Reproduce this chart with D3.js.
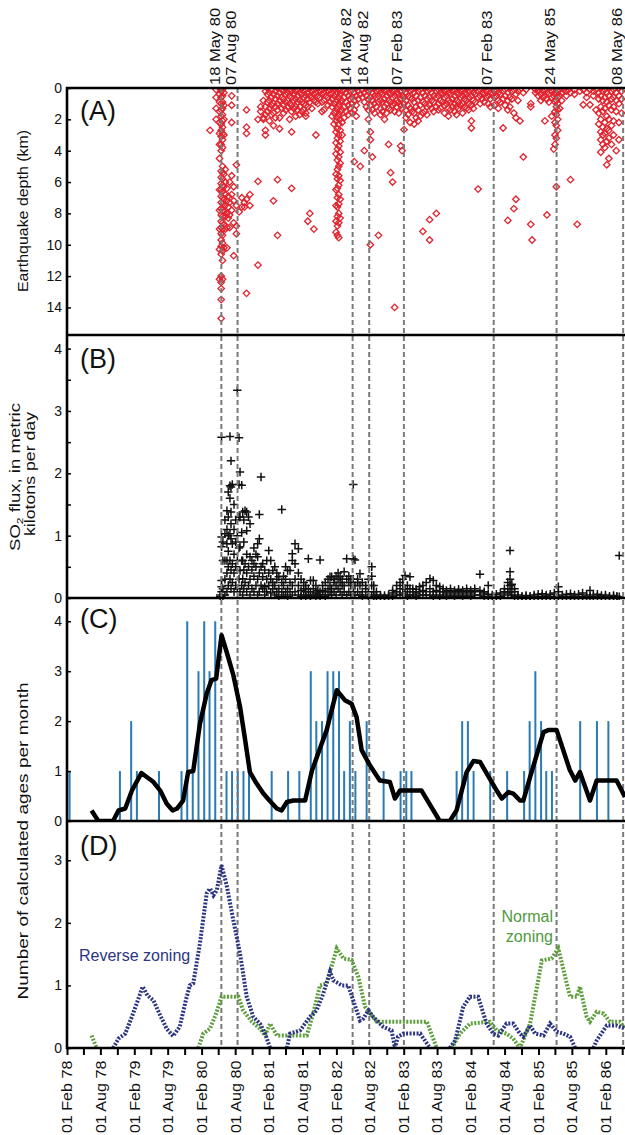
<!DOCTYPE html>
<html><head><meta charset="utf-8">
<script src="https://cdn.jsdelivr.net/npm/d3@7"></script>
<style>
html,body{margin:0;padding:0;background:#fff;}
svg{display:block;font-family:"Liberation Sans",Arial,Helvetica,sans-serif;}
</style></head><body>
<svg id="chart" width="625" height="1135"></svg>
<script>
// ---------------- DATA ----------------
const eventLabels = ["18 May 80","07 Aug 80","14 May 82","18 Aug 82","07 Feb 83","07 Feb 83","24 May 85","08 May 86"];
const eventDates  = ["1980-05-18","1980-08-14","1982-04-30","1982-07-29","1983-02-02","1984-06-03","1985-05-10","1986-05-06"];

const depthTicks = [0,2,4,6,8,10,12,14];
const so2Ticks = [0,1,2,3,4];
const so2Minor = [0.5,1.5,2.5,3.5];
const ageTicksC = [0,1,2,3,4];
const ageTicksD = [0,1,2,3];

// Earthquakes: [decimal year, [depths km]]
const quakes = [
[1980.21,[2.7]],[1980.30,[0.1,0.6,1.3,2.0]],
[1980.35,[0.0,0.4,0.9,1.5,2.2,2.9,3.6,4.5,6.5,7.8,9.0,10.3,12.2]],
[1980.375,[0.2,0.6,1.0,1.4,1.8,2.3,2.7,3.1,3.6,4.0,5.3,5.7,6.1,6.5,6.9,7.3,7.7,8.1,8.5,8.9,9.3,9.7,10.1,10.6,12.0,12.4,12.8,13.5,14.7]],
[1980.395,[0.1,0.5,0.9,1.3,1.7,2.1,2.5,2.9,3.3,3.8,5.0,5.4,5.8,6.2,6.6,7.0,7.4,7.8,8.2,8.6,9.0,9.4,9.9,10.4,11.0,12.2]],
[1980.415,[0.3,1.1,2.0,3.0,5.5,6.3,7.1,7.9,8.7,10.2]],
[1980.435,[5.2,6.0,6.8,7.5,8.2,9.0]],
[1980.46,[6.4,7.2,8.0,8.9,10.2]],[1980.48,[6.9,7.6,8.3]],[1980.50,[6.0,7.3,8.1,8.9]],
[1980.53,[0.5,1.1,2.2,5.6,6.8,7.8]],[1980.56,[6.3,7.2,8.6,10.7]],[1980.60,[4.9,7.5,8.8,9.3]],
[1980.64,[7.9]],[1980.68,[7.0,7.6]],[1980.72,[7.3,7.6]],[1980.75,[1.4,2.5,2.9,7.1,13.1]],
[1980.80,[6.8,7.5]],[1980.92,[2.0,5.96,11.3]],[1980.96,[1.5,1.2]],[1981.00,[0.8,1.9,2.0]],
[1981.03,[0.2,1.2,1.7,2.7,3.0]],[1981.06,[0.0,0.4,0.9,1.5]],[1981.09,[0.3,0.8,1.3,2.1]],
[1981.12,[0.1,0.6,1.1,1.7]],[1981.15,[0.4,1.0,1.6,2.4,7.2]],[1981.18,[0.2,0.7,1.2,1.9]],
[1981.21,[0.0,0.5,1.0,1.4,5.85,9.4]],[1981.24,[0.3,0.8,1.9,2.6]],[1981.27,[0.1,0.6,1.3]],
[1981.30,[0.2,0.7,1.1,1.6]],[1981.33,[0.0,0.4,0.9,1.4]],[1981.36,[0.3,0.8,1.2]],
[1981.39,[0.1,0.5,1.0,2.0]],[1981.42,[0.2,0.6,1.1,1.5,2.8,6.4]],[1981.45,[0.0,0.4,0.8,1.3]],
[1981.48,[0.2,0.7,1.2,1.8]],[1981.51,[0.1,0.5,0.9,1.4]],[1981.54,[0.3,0.8,1.2,1.7]],
[1981.57,[0.0,0.4,0.9,1.5]],[1981.60,[0.2,0.6,1.0,1.4]],[1981.63,[0.1,0.5,1.1,1.6,1.8]],
[1981.66,[0.3,0.7,1.2,8.5]],[1981.69,[0.0,0.5,0.9,8.0]],[1981.72,[0.2,0.6,1.3]],
[1981.75,[0.1,0.4,0.8,9.0]],[1981.78,[0.3,0.9,3.0]],[1981.81,[0.0,0.5,1.0]],[1981.84,[0.2,0.6]],
[1981.87,[0.1,0.4,0.9,1.5]],[1981.90,[0.3,0.8,1.4]],[1981.93,[0.0,0.5]],[1981.96,[0.2,0.6,1.1]],
[1981.99,[0.1,0.4,0.9]],[1982.02,[0.3,0.7,1.2,1.8]],[1982.05,[0.1,0.5,1.0,1.6,2.3]],
[1982.08,[0.0,0.4,0.9,1.5,2.1,2.8,3.5,4.2,5.5,6.5,7.5,8.5,9.2]],
[1982.10,[0.3,0.8,1.3,1.9,2.6,3.2,3.9,4.6,5.2,5.8,6.4,7.0,7.6,8.2,8.8,9.4]],
[1982.12,[0.1,0.6,1.1,1.7,2.3,3.0,3.7,4.4,5.0,5.6,6.2,6.8,7.4,8.0,8.6,9.55]],
[1982.14,[0.4,0.9,1.5,2.0,2.7,3.4,4.1,4.8,5.9,7.1,8.3]],
[1982.17,[0.2,0.8,1.4,2.2,3.0]],[1982.20,[0.1,0.6,1.2,1.9]],[1982.23,[0.3,0.9,1.5]],
[1982.26,[0.0,0.5,1.1,1.7]],[1982.29,[0.2,0.7,1.3]],[1982.32,[0.1,0.6,1.0,1.6]],
[1982.35,[0.3,0.8,1.4,4.7]],[1982.38,[0.0,0.5,1.1,1.8]],[1982.41,[0.2,0.7]],[1982.44,[0.4,5.0]],
[1982.47,[0.1,0.6]],[1982.50,[0.3,0.9,4.0]],[1982.53,[0.0,0.5,1.2]],[1982.56,[0.2,0.7,1.4,2.0]],
[1982.59,[0.1,0.6,1.1,2.8,3.3,10.0]],[1982.62,[0.3,0.8,1.4,4.4]],[1982.65,[0.0,0.5,1.0,1.6]],
[1982.68,[0.2,0.6,1.2]],[1982.71,[0.1,0.5,0.9,9.4]],[1982.74,[0.3,0.8,1.3,1.7]],
[1982.77,[0.0,0.4,0.9,1.5]],[1982.80,[0.2,0.7,1.2,2.0]],[1982.83,[0.1,0.5,1.0,1.6]],
[1982.86,[0.3,0.8,1.3,3.6]],[1982.89,[0.0,0.4,0.9,1.4,5.4]],[1982.92,[0.2,0.6,1.1,6.0]],
[1982.95,[0.1,0.5,1.0,1.5,14.0]],[1982.98,[0.3,0.8,1.2]],[1983.01,[0.0,0.4,0.9,1.6]],
[1983.04,[0.2,0.7,1.1,3.7]],[1983.06,[0.5,1.3,4.0]],[1983.09,[0.1,0.6,1.0,2.66]],
[1983.12,[0.3,0.8,1.4,1.9]],[1983.15,[0.0,0.5,1.1,1.7]],[1983.18,[0.2,0.6,1.3,2.2]],
[1983.21,[0.1,0.7,1.5]],[1983.24,[0.3,0.9,1.6,2.3]],[1983.27,[0.0,0.5,1.2,1.9]],
[1983.30,[0.2,0.8,1.4,2.1]],[1983.33,[0.1,0.6,1.1,1.8]],[1983.37,[0.3,0.9,1.6,9.15]],
[1983.40,[0.0,0.5,1.0,1.5]],[1983.43,[0.2,0.7,1.2,1.7]],[1983.47,[0.1,0.6,1.1,8.4,9.7]],
[1983.50,[0.3,0.8,1.3]],[1983.53,[0.0,0.5,0.9,1.5]],[1983.57,[0.2,0.6,1.2,8.0]],
[1983.60,[0.1,0.5,1.0,1.4]],[1983.63,[0.3,0.8,1.3]],[1983.66,[0.0,0.4,0.9]],
[1983.69,[0.2,0.6,1.1,1.6]],[1983.72,[0.1,0.5,1.0]],[1983.75,[0.3,0.8,1.3,1.8]],
[1983.78,[0.0,0.4,0.9,1.4]],[1983.81,[0.2,0.7,1.2]],[1983.84,[0.1,0.5,1.0,1.5]],
[1983.87,[0.3,0.8,1.2,1.7]],[1983.90,[0.0,0.4,0.9,1.3]],[1983.93,[0.2,0.6,1.1]],
[1983.96,[0.1,0.5,1.0,1.6]],[1983.99,[0.3,0.7,1.2]],[1984.02,[0.0,0.4,0.8,1.3]],
[1984.05,[0.2,0.6,1.0,1.4]],[1984.09,[0.1,0.5,1.1,2.1,2.55]],[1984.12,[0.3,0.8,1.3]],
[1984.15,[0.0,0.4,0.9]],[1984.19,[0.2,0.6,6.45]],[1984.22,[0.1,0.5,1.0]],[1984.25,[0.3,0.7]],
[1984.28,[0.0,0.4,0.9]],[1984.31,[0.2,0.6]],[1984.34,[0.1,0.5,1.0]],[1984.37,[0.3,0.7,1.2]],
[1984.40,[0.0,0.4]],[1984.43,[0.2,0.6,1.1]],[1984.46,[0.1,0.5]],[1984.49,[0.3,0.8,1.3]],
[1984.52,[0.0,0.4,0.9]],[1984.56,[0.2,0.7,2.55]],[1984.59,[0.1,0.5,1.1]],[1984.63,[0.3,0.8,1.4,8.45]],
[1984.66,[0.0,0.6,1.2]],[1984.69,[0.2,0.7]],[1984.72,[0.1,1.6,7.7]],[1984.75,[0.4,1.9,7.1]],
[1984.78,[0.2,0.8]],[1984.81,[0.1,2.1]],[1984.86,[0.3,4.4]],[1984.90,[0.1]],
[1984.97,[1.0,1.2,8.7]],[1984.99,[9.7]],[1985.04,[0.1,0.3]],[1985.08,[0.2,0.5]],
[1985.12,[0.0,0.4,0.8]],[1985.15,[0.2,0.6]],[1985.18,[0.1,0.5,2.1]],[1985.21,[0.3,0.7,8.1]],
[1985.24,[0.0,0.4,0.9]],[1985.28,[0.2,0.6,1.8]],[1985.31,[0.1,0.5,3.9]],
[1985.33,[0.3,0.9,1.5,2.2,3.0,3.6]],[1985.35,[0.0,0.4,0.8,1.2,1.7,2.4,3.2,6.3]],
[1985.37,[0.2,0.6,1.0,1.4,2.0,2.7]],[1985.40,[0.1,0.5,1.3]],[1985.43,[0.3,0.8]],[1985.46,[0.1]],
[1985.50,[0.2,0.5]],[1985.53,[0.1]],[1985.56,[0.3,5.85]],[1985.62,[0.1,0.4]],[1985.66,[8.7]],
[1985.70,[0.2]],[1985.75,[0.1,1.07]],[1985.80,[0.3,0.6]],[1985.85,[1.07,0.1]],[1985.90,[0.2,0.5]],
[1985.94,[0.1,1.4]],[1985.98,[0.3,0.7,1.6,2.3]],[1986.01,[0.0,0.5,1.2,2.0,2.8,3.3,4.1]],
[1986.04,[0.2,0.8,1.5,2.5,3.0,3.6]],[1986.07,[0.1,0.6,1.3,2.2,2.9,3.8]],
[1986.10,[0.3,0.9,1.8,2.6,3.4,4.9]],[1986.13,[0.0,0.5,1.1,2.0,2.7,3.2,4.5]],
[1986.17,[0.2,0.7,1.4,2.4,3.6]],[1986.20,[0.1,0.6,1.2,2.1,3.0]],[1986.24,[0.3,0.8,1.5,4.0]],
[1986.28,[0.0,0.5,1.0,2.2,3.3]],[1986.32,[0.2,0.7,1.6]]
];

// SO2 flux: [decimal year, [kilotons/day]]
const so2 = [
[1980.36,[0.02,0.05]],[1980.38,[0.1,0.18,0.28,0.82,0.98,2.58]],[1980.40,[0.0,0.15,0.6,0.9]],
[1980.43,[0.05,0.3,0.6,1.03,1.25]],[1980.46,[0.1,0.4,0.6,0.87,1.1,1.4]],[1980.48,[0.2,0.5,0.75,1.0,1.3,1.7]],
[1980.505,[0.3,0.6,1.03,1.6,1.8,2.59]],[1980.52,[0.15,0.45,0.95,1.19,1.38,1.78,2.2]],[1980.54,[0.25,0.55,0.87,1.82]],
[1980.565,[0.1,0.4,0.7,1.1,1.5]],[1980.59,[0.2,0.5,0.9,1.25]],[1980.614,[0.15,0.6,1.0,3.33]],
[1980.639,[0.3,0.8,1.3,1.82,2.57]],[1980.654,[0.1,0.44,0.82,1.3,2.02]],[1980.679,[0.2,0.6,1.05,1.81]],
[1980.694,[0.05,0.31,0.6,1.38]],[1980.71,[0.15,0.45,0.9,1.25]],[1980.728,[0.25,0.55,1.4]],
[1980.753,[0.1,0.4,0.7,1.08,1.38]],[1980.78,[0.2,0.5,1.3]],[1980.802,[0.05,0.3,0.66,1.19]],
[1980.83,[0.15,0.45,0.6]],[1980.86,[0.1,0.35,0.55,0.8]],[1980.89,[0.2,0.5,0.7]],
[1980.915,[0.05,0.3,0.66,0.87]],[1980.94,[0.1,0.4,0.95,1.34]],[1980.965,[0.2,0.5,1.94]],
[1980.99,[0.15,0.34,0.55]],[1981.02,[0.05,0.18,0.45]],[1981.05,[0.1,0.3,0.6]],[1981.08,[0.2,0.4,0.76]],
[1981.11,[0.08,0.3,0.6]],[1981.14,[0.15,0.25,0.44]],[1981.17,[0.05,0.2,0.5]],[1981.20,[0.1,0.3,0.4]],
[1981.23,[0.02,0.15,0.34]],[1981.273,[0.1,0.25,1.42]],[1981.30,[0.05,0.2,0.35]],[1981.33,[0.1,0.3,0.5]],
[1981.36,[0.02,0.15,0.44]],[1981.396,[0.1,0.25,0.44]],[1981.43,[0.05,0.2,0.6,0.71]],[1981.47,[0.1,0.3,0.55,0.87]],
[1981.52,[0.05,0.2,0.4,0.79]],[1981.56,[0.02,0.12,0.3]],[1981.60,[0.05,0.15,0.25]],[1981.63,[0.02,0.1,0.2]],
[1981.668,[0.05,0.15,0.63]],[1981.70,[0.02,0.1,0.28]],[1981.742,[0.05,0.15,0.28]],[1981.78,[0.02,0.08,0.2]],
[1981.81,[0.05,0.12]],[1981.842,[0.02,0.1,0.61]],[1981.88,[0.05,0.12,0.2]],[1981.92,[0.02,0.1,0.25]],
[1981.96,[0.05,0.15,0.3]],[1981.99,[0.1,0.2,0.34]],[1982.015,[0.05,0.15,0.34]],[1982.05,[0.1,0.25,0.3]],
[1982.08,[0.05,0.2,0.35]],[1982.11,[0.15,0.3,0.4]],[1982.14,[0.1,0.25,0.34]],[1982.17,[0.05,0.2,0.3]],
[1982.20,[0.1,0.2,0.42]],[1982.238,[0.05,0.3,0.63]],[1982.27,[0.1,0.25,0.35]],[1982.30,[0.05,0.2,0.3]],
[1982.336,[0.1,0.3,0.63,1.82]],[1982.361,[0.05,0.2,0.61]],[1982.40,[0.1,0.25,0.3]],[1982.435,[0.05,0.2,0.39]],
[1982.47,[0.02,0.1,0.25]],[1982.52,[0.05,0.15,0.2]],[1982.56,[0.02,0.1,0.3]],[1982.61,[0.05,0.2,0.35,0.5]],
[1982.64,[0.02,0.1,0.2]],[1982.68,[0.01,0.05,0.1]],[1982.74,[0.02,0.05]],[1982.80,[0.01,0.04]],
[1982.86,[0.02,0.05]],[1982.92,[0.03,0.08,0.12]],[1982.98,[0.05,0.1,0.2]],[1983.03,[0.05,0.15,0.25]],
[1983.07,[0.08,0.2,0.3]],[1983.104,[0.05,0.15,0.36]],[1983.14,[0.02,0.1,0.2]],[1983.178,[0.05,0.15,0.34]],
[1983.22,[0.05,0.1,0.15]],[1983.27,[0.03,0.08,0.14]],[1983.32,[0.05,0.1,0.18]],[1983.37,[0.05,0.12,0.2]],
[1983.42,[0.05,0.1,0.25]],[1983.475,[0.05,0.15,0.31]],[1983.524,[0.03,0.1,0.28]],[1983.57,[0.05,0.12,0.2]],
[1983.62,[0.03,0.1,0.18]],[1983.67,[0.05,0.1,0.15]],[1983.72,[0.03,0.08,0.12]],[1983.78,[0.05,0.1,0.15]],
[1983.84,[0.03,0.08,0.12]],[1983.90,[0.05,0.1,0.14]],[1983.96,[0.03,0.08,0.12]],[1984.02,[0.05,0.1,0.15]],
[1984.08,[0.03,0.08,0.12]],[1984.14,[0.05,0.1,0.15]],[1984.217,[0.05,0.12,0.38]],[1984.28,[0.03,0.08,0.1]],
[1984.34,[0.02,0.06,0.2]],[1984.40,[0.02,0.05]],[1984.46,[0.02,0.06]],[1984.52,[0.03,0.08]],
[1984.58,[0.05,0.1,0.15]],[1984.63,[0.08,0.15,0.25]],[1984.663,[0.1,0.2,0.3,0.42,0.76]],[1984.69,[0.05,0.15,0.22]],
[1984.73,[0.03,0.1,0.15]],[1984.78,[0.02,0.05]],[1984.84,[0.01,0.03]],[1984.90,[0.02,0.04]],
[1984.96,[0.01,0.03]],[1985.02,[0.02,0.05]],[1985.08,[0.02,0.06]],[1985.14,[0.03,0.07]],
[1985.20,[0.02,0.05]],[1985.26,[0.03,0.06]],[1985.32,[0.02,0.08]],[1985.38,[0.03,0.1,0.18]],
[1985.44,[0.02,0.05]],[1985.50,[0.02,0.06]],[1985.56,[0.03,0.07]],[1985.62,[0.02,0.05]],
[1985.68,[0.02,0.06]],[1985.74,[0.03,0.08]],[1985.80,[0.02,0.05]],[1985.85,[0.02,0.12]],
[1985.90,[0.02,0.05]],[1985.96,[0.02,0.06]],[1986.02,[0.01,0.04]],[1986.08,[0.02,0.05]],
[1986.14,[0.01,0.03]],[1986.20,[0.02,0.04]],[1986.25,[0.01,0.03]],[1986.285,[0.02,0.68]]
];

// Panel C: monthly counts of calculated ages
const barMonths = ["1978-02","1978-11","1979-01","1979-02","1979-06","1979-10","1979-11","1979-12",
"1980-01","1980-02","1980-03","1980-04","1980-06","1980-07","1980-08","1980-09","1980-10",
"1981-02","1981-05","1981-07","1981-09","1981-10","1981-11","1981-12","1982-01","1982-02",
"1982-03","1982-04","1982-05","1982-07","1982-10","1983-01","1983-02","1983-03",
"1983-11","1983-12","1984-01","1984-02","1984-05","1984-08","1984-11","1984-12",
"1985-01","1985-02","1985-03","1985-04","1985-09","1985-12","1986-02"];
const barCounts = [1,1,2,1,1,1,4,1, 3,4,3,4,1,1,1,1,1, 1,1,1,3,2,2,3,3,3, 1,2,1,2,1,1,1,1, 1,2,2,1,1,1,1,2, 3,2,1,1,2,2,2];

// Panel C smoothed curve [decimal year, value]
const smoothAll = [[1978.45,0.21],[1978.55,0],[1978.77,0],[1978.85,0.21],[1978.95,0.25],[1979.05,0.61],
[1979.19,0.96],[1979.27,0.88],[1979.37,0.78],[1979.47,0.61],[1979.565,0.35],[1979.655,0.21],[1979.72,0.25],
[1979.81,0.41],[1979.885,0.98],[1979.96,1.0],[1980.06,1.95],[1980.16,2.55],[1980.23,2.82],[1980.30,2.85],
[1980.38,3.72],[1980.455,3.39],[1980.555,2.92],[1980.655,2.28],[1980.73,1.62],[1980.80,0.98],[1980.90,0.75],
[1981.0,0.55],[1981.09,0.41],[1981.20,0.25],[1981.27,0.21],[1981.35,0.38],[1981.445,0.41],[1981.62,0.41],
[1981.72,1.0],[1981.84,1.45],[1981.94,1.82],[1982.09,2.62],[1982.21,2.42],[1982.31,2.35],[1982.385,2.08],
[1982.46,1.42],[1982.58,1.12],[1982.73,0.81],[1982.88,0.78],[1982.955,0.45],[1983.03,0.61],[1983.35,0.61],
[1983.62,0],[1983.77,0],[1983.87,0.21],[1984.02,0.98],[1984.12,1.2],[1984.22,1.18],[1984.465,0.61],
[1984.54,0.45],[1984.64,0.58],[1984.71,0.55],[1984.81,0.41],[1984.86,0.41],[1984.96,0.88],[1985.16,1.78],
[1985.23,1.82],[1985.355,1.82],[1985.55,1.02],[1985.63,0.81],[1985.70,0.98],[1985.85,0.41],[1985.95,0.81],
[1986.245,0.81],[1986.37,0.48]];

// Panel D: reverse zoning (null = gap)
const reverseZoning = [[1978.77,0],[1978.85,0.15],[1978.95,0.23],[1979.05,0.5],[1979.21,0.98],[1979.28,0.84],
[1979.37,0.76],[1979.47,0.52],[1979.565,0.31],[1979.66,0.19],[1979.76,0.34],[1979.85,0.76],[1979.91,1.0],
[1979.96,1.03],[1980.06,1.67],[1980.16,2.47],[1980.21,2.55],[1980.26,2.44],[1980.31,2.52],[1980.38,2.92],
[1980.456,2.6],[1980.555,2.04],[1980.654,1.51],[1980.753,0.82],[1980.85,0.5],[1980.95,0.39],[1981.025,0.23],
[1981.10,0],null,[1981.35,0],[1981.396,0.23],[1981.545,0.28],[1981.693,0.5],[1981.79,0.6],[1981.89,0.87],
[1981.99,1.22],[1982.04,1.08],[1982.165,1.0],[1982.26,1.0],[1982.335,0.76],[1982.435,0.44],[1982.485,0.47],
[1982.56,0.6],[1982.63,0.5],[1982.78,0.34],[1982.905,0.28],[1982.955,0],[1983.0,0.18],[1983.08,0.23],
[1983.33,0.23],[1983.40,0.12],[1983.475,0],null,[1983.77,0],[1983.85,0.12],[1983.97,0.66],[1984.07,0.82],
[1984.19,0.82],[1984.315,0.39],[1984.415,0.23],[1984.49,0.2],[1984.61,0.39],[1984.71,0.39],[1984.81,0.23],
[1984.86,0.18],[1984.96,0.36],[1985.035,0.23],[1985.16,0.2],[1985.257,0.39],[1985.355,0.26],[1985.455,0.23],
[1985.554,0.18],[1985.63,0],null,[1985.9,0],[1985.95,0.12],[1986.1,0.36],[1986.245,0.36],[1986.37,0.31]];

// Panel D: normal zoning
const normalZoning = [[1978.45,0.2],[1978.525,0],null,[1980.035,0],[1980.11,0.23],[1980.21,0.31],[1980.31,0.58],
[1980.38,0.82],[1980.63,0.82],[1980.70,0.6],[1980.83,0.42],[1980.95,0.31],[1981.025,0.2],[1981.10,0.39],
[1981.20,0.2],[1981.645,0.2],[1981.74,0.55],[1981.84,1.0],[1981.94,1.03],[1982.09,1.59],[1982.19,1.43],
[1982.31,1.41],[1982.41,1.14],[1982.51,0.66],[1982.585,0.55],[1982.685,0.42],[1983.43,0.42],[1983.575,0],
null,[1983.80,0],[1983.92,0.23],[1984.07,0.39],[1984.366,0.42],[1984.465,0.28],[1984.61,0.23],[1984.71,0.15],
[1984.81,0],[1984.96,0.39],[1985.035,0.82],[1985.135,1.4],[1985.28,1.43],[1985.38,1.59],[1985.505,1.03],
[1985.554,0.82],[1985.655,0.82],[1985.70,0.98],[1985.80,0.5],[1985.85,0.42],[1985.95,0.58],[1986.05,0.55],
[1986.147,0.42],[1986.295,0.42],[1986.37,0.31]];

// ---------------- DRAW ----------------
const svg = d3.select("#chart");
function yd(v){ const y=Math.floor(v); const a=new Date(y,0,1), b=new Date(y+1,0,1); return new Date(+a + (v-y)*(b-a)); }
const parse = d3.timeParse("%Y-%m-%d");
const x = d3.scaleTime().domain([new Date(1978,1,1), new Date(1986,1,1)]).range([67,605.8]);
const yA = d3.scaleLinear().domain([0,15.76]).range([88,335]);
const yB = d3.scaleLinear().domain([0,4.218]).range([598,335]);
const yC = d3.scaleLinear().domain([0,4.466]).range([821,598]);
const yD = d3.scaleLinear().domain([0,3.628]).range([1048,821]);

const defs = svg.append("defs");
[["clipA",88,335],["clipB",335,600],["clipC",598,821],["clipD",821,1048]].forEach(([id,t,b])=>{
  defs.append("clipPath").attr("id",id).append("rect").attr("x",67).attr("y",t).attr("width",560).attr("height",b-t);
});

// Panel C bars
const bars = barMonths.map((m,i)=>({d:parse(m+"-15"), v:barCounts[i]}));
svg.append("g").attr("clip-path","url(#clipC)").selectAll("line").data(bars).join("line")
  .attr("x1",d=>x(d.d)).attr("x2",d=>x(d.d)).attr("y1",yC(0)).attr("y2",d=>yC(d.v))
  .attr("stroke","#2a7ab4").attr("stroke-width",2);

// Panel A quakes
const qPts = quakes.flatMap(([t,ds])=>ds.map(dp=>({d:yd(t),v:dp})));
const diamond = d3.symbol(d3.symbolSquare, 21)();
svg.append("g").attr("clip-path","url(#clipA)").selectAll("path").data(qPts).join("path")
  .attr("d",diamond).attr("transform",d=>`translate(${x(d.d)},${yA(d.v)}) rotate(45)`)
  .attr("fill","none").attr("stroke","#e2232e").attr("stroke-width",1.3);

// Panel B SO2
const sPts = so2.flatMap(([t,vs])=>vs.map(v=>({d:yd(t),v})));
svg.append("g").attr("clip-path","url(#clipB)").selectAll("path").data(sPts).join("path")
  .attr("d","M-4.2,0H4.2M0,-4.2V4.2").attr("transform",d=>`translate(${x(d.d)},${yB(d.v)})`)
  .attr("stroke","#111").attr("stroke-width",1.5).attr("fill","none");

// Event dashed lines
const evts = eventDates.map((s,i)=>({d:parse(s), label:eventLabels[i]}));
svg.append("g").selectAll("line").data(evts).join("line")
  .attr("x1",d=>x(d.d)).attr("x2",d=>x(d.d)).attr("y1",88).attr("y2",1048)
  .attr("stroke","#7a7a7a").attr("stroke-width",2).attr("stroke-dasharray","5,3");

// Panel C smoothed line
const lineC = d3.line().x(d=>x(yd(d[0]))).y(d=>yC(d[1]));
svg.append("path").attr("clip-path","url(#clipC)").attr("d",lineC(smoothAll))
  .attr("fill","none").attr("stroke","#000").attr("stroke-width",4.5).attr("stroke-linejoin","round");

// Panel D lines
const lineD = d3.line().defined(d=>d!==null).x(d=>x(yd(d[0]))).y(d=>yD(d[1]));
svg.append("path").attr("clip-path","url(#clipD)").attr("d",lineD(normalZoning))
  .attr("fill","none").attr("stroke","#5e9e3c").attr("stroke-width",4).attr("stroke-dasharray","2,1.5");
svg.append("path").attr("clip-path","url(#clipD)").attr("d",lineD(reverseZoning))
  .attr("fill","none").attr("stroke","#2c3582").attr("stroke-width",4).attr("stroke-dasharray","2,1.5");

// Frame
[88,335,598,821,1048].forEach(yy=>svg.append("line").attr("x1",66).attr("x2",625).attr("y1",yy).attr("y2",yy)
  .attr("stroke","#000").attr("stroke-width",2.6));
svg.append("line").attr("x1",67).attr("x2",67).attr("y1",87).attr("y2",1049).attr("stroke","#000").attr("stroke-width",2.6);

// Left axes
function leftAxis(scale, vals, labels){
  const g = svg.append("g").attr("transform","translate(67,0)")
    .call(d3.axisLeft(scale).tickValues(vals).tickSize(-4).tickPadding(5).tickFormat(labels?d3.format("d"):""));
  g.select(".domain").remove();
  g.selectAll("line").attr("stroke","#000").attr("stroke-width",1.5);
  g.selectAll("text").attr("font-size",14).attr("font-family","Liberation Sans, Arial, sans-serif").attr("fill","#111");
}
leftAxis(yA, depthTicks, true);
leftAxis(yB, so2Ticks, true);
leftAxis(yB, so2Minor, false);
leftAxis(yC, ageTicksC, true);
leftAxis(yD, ageTicksD, true);

// Bottom axis: ticks every 3 months from 01 Feb 78, labels every 6 months
const tickDates = d3.timeMonth.range(new Date(1978,1,1), new Date(1986,4,2), 3);
const fmt = d3.timeFormat("%d %b %y");
const gx = svg.append("g").attr("transform","translate(0,1048)")
  .call(d3.axisBottom(x).tickValues(tickDates).tickSize(7).tickFormat(d=>(d.getMonth()===1||d.getMonth()===7)?fmt(d):""));
gx.select(".domain").remove();
gx.selectAll("line").attr("stroke","#000").attr("stroke-width",2);
gx.selectAll("text").attr("font-size",14).attr("fill","#111").attr("text-anchor","end")
  .attr("font-family","Liberation Sans, Arial, sans-serif")
  .attr("transform","rotate(-90) scale(1.15,1)").attr("x",-11).attr("y",0).attr("dy","0.35em");

// Event labels on top
svg.append("g").selectAll("text").data(evts).join("text")
  .attr("transform",d=>`translate(${x(d.d)-1.5},85) rotate(-90) scale(1.18,1)`)
  .attr("font-size",14).attr("fill","#111").text(d=>d.label);

// Panel letters
[["(A)",120],["(B)",368],["(C)",628],["(D)",855]].forEach(([t,yy])=>
  svg.append("text").attr("x",80).attr("y",yy).attr("font-size",27).attr("fill","#111").text(t));

// Y axis titles
function vtitle(txt,bx,cy,len){
  return svg.append("text").attr("transform",`translate(${bx},${cy}) rotate(-90)`).attr("text-anchor","middle")
    .attr("font-size",14).attr("fill","#111").attr("textLength",len).attr("lengthAdjust","spacingAndGlyphs").text(txt);
}
vtitle("Earthquake depth (km)",28,211,162);
const so2t = svg.append("text").attr("transform","translate(20,477) rotate(-90)").attr("text-anchor","middle")
  .attr("font-size",14).attr("fill","#111").attr("textLength",148).attr("lengthAdjust","spacingAndGlyphs");
so2t.append("tspan").text("SO");
so2t.append("tspan").attr("font-size",9).attr("dy",3).text("2");
so2t.append("tspan").attr("dy",-3).text(" flux, in metric");
vtitle("kilotons per day",35,474,124);
vtitle("Number of calculated ages per month",28,841,317);

// Panel D annotations
svg.append("text").attr("x",79).attr("y",961).attr("font-size",16).attr("fill","#2c3582").text("Reverse zoning");
svg.append("text").attr("x",553).attr("y",922).attr("text-anchor","end").attr("font-size",16).attr("fill","#4f9a3e").text("Normal");
svg.append("text").attr("x",553).attr("y",942).attr("text-anchor","end").attr("font-size",16).attr("fill","#4f9a3e").text("zoning");
</script>
</body></html>
